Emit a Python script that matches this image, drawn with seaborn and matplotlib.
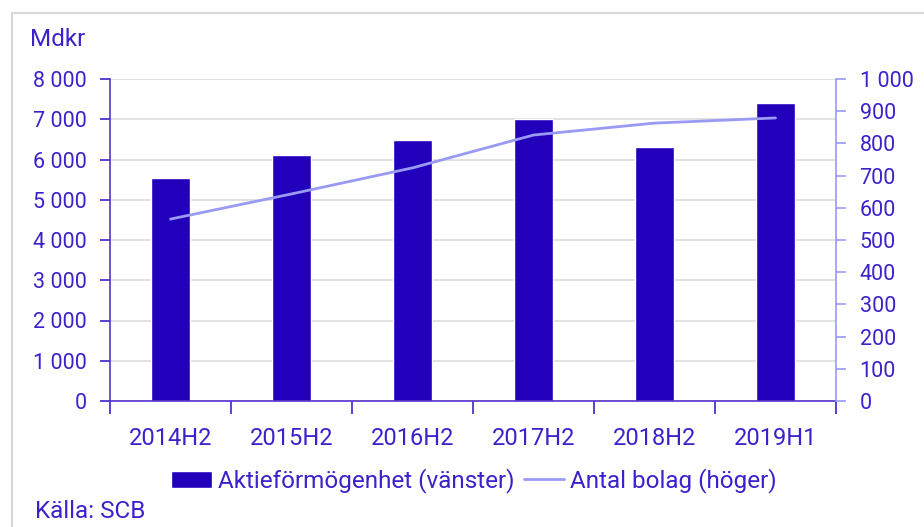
import numpy as np
import pandas as pd
import matplotlib.pyplot as plt
import matplotlib.ticker as mticker
from matplotlib.patches import Rectangle
import seaborn as sns

# data
perioder = ["2014H2", "2015H2", "2016H2", "2017H2", "2018H2", "2019H1"]
aktieformogenhet = [5530, 6110, 6490, 7010, 6300, 7400]   # Mdkr, left axis
antal_bolag = [565, 643, 724, 826, 863, 879]               # right axis

bar_col = "#2200BB"
line_col = "#9A9AF5"
text_col = "#3A22CC"

sns.set_style("white")
plt.rcParams['font.family'] = ['Roboto', 'DejaVu Sans']
plt.rcParams['font.size'] = 16

df = pd.DataFrame({"period": perioder, "varde": aktieformogenhet, "antal": antal_bolag})

fig = plt.figure(figsize=(9.24, 5.27), dpi=100)
ax = fig.add_axes([110 / 924, 1 - 401 / 527, (836 - 110) / 924, (401 - 79) / 527])

sns.barplot(data=df, x="period", y="varde", color=bar_col, width=0.32,
            saturation=1, ax=ax, label="Aktieförmögenhet (vänster)", legend=False)
if ax.get_legend() is not None:
    ax.get_legend().remove()
ax.set_xlim(-0.5, len(perioder) - 0.5)
ax.set_ylim(0, 8000)
ax.yaxis.set_major_locator(mticker.MultipleLocator(1000))
ax.yaxis.set_major_formatter(mticker.FuncFormatter(lambda v, p: f"{int(v):,}".replace(",", " ")))
ax.grid(axis="y", color="#dddddd", lw=1.2)
ax.set_axisbelow(True)
ax.set_xlabel("")
ax.set_ylabel("")

# category ticks between bars, labels in the middle
ax.set_xticks(np.arange(len(perioder) + 1) - 0.5)
ax.set_xticklabels([])
ax.set_xticks(np.arange(len(perioder)), minor=True)
ax.set_xticklabels(perioder, minor=True)
ax.tick_params(axis="x", which="major", bottom=True, length=9, color=text_col, width=1.2)
ax.tick_params(axis="x", which="minor", bottom=True, length=0, pad=19, colors=text_col, labelsize=17)
ax.tick_params(axis="y", left=True, length=7, width=1.2, color=text_col, colors=text_col,
               pad=10, labelsize=15.5)

for s in ["top", "right"]:
    ax.spines[s].set_visible(False)
ax.spines["left"].set_color("#5533CC")
ax.spines["bottom"].set_color("#5533CC")
ax.spines["left"].set_linewidth(1.2)
ax.spines["bottom"].set_linewidth(1.2)

ax2 = ax.twinx()
sns.lineplot(x=np.arange(len(perioder)), y=antal_bolag, color=line_col, lw=2,
             ax=ax2, label="Antal bolag (höger)", legend=False)
ax2.set_ylim(0, 1000)
ax2.yaxis.set_major_locator(mticker.MultipleLocator(100))
ax2.yaxis.set_major_formatter(mticker.FuncFormatter(lambda v, p: f"{int(v):,}".replace(",", " ")))
ax2.tick_params(axis="y", right=True, length=7, width=1.2, color=line_col, colors=text_col,
                pad=10, labelsize=15.5)
for s in ["top", "left", "bottom"]:
    ax2.spines[s].set_visible(False)
ax2.spines["right"].set_color(line_col)
ax2.spines["right"].set_linewidth(1.2)
ax2.grid(False)

fig.text(30 / 924, 1 - 40 / 527, "Mdkr", color=text_col, fontsize=17.5, va="center")
fig.text(35 / 924, 1 - 512 / 527, "Källa: SCB", color=text_col, fontsize=17.5, va="center")

h1 = [ax.patches[0]]
l1 = ["Aktieförmögenhet (vänster)"]
h2, l2 = ax2.get_legend_handles_labels()
fig.legend(h1 + h2, l1 + l2, loc="center", bbox_to_anchor=(474 / 924, 1 - 481 / 527),
           ncol=2, frameon=False, labelcolor=text_col, fontsize=17.5,
           handlelength=1.65, handletextpad=0.25, columnspacing=0.4)

# light frame around the chart
fig.patches.append(Rectangle((12 / 924, -0.1), 1.2, 1 - 13 / 527 + 0.1, transform=fig.transFigure,
                             fill=False, edgecolor="#d8d8d8", lw=1.5))

fig.savefig("out.png", dpi=100)
